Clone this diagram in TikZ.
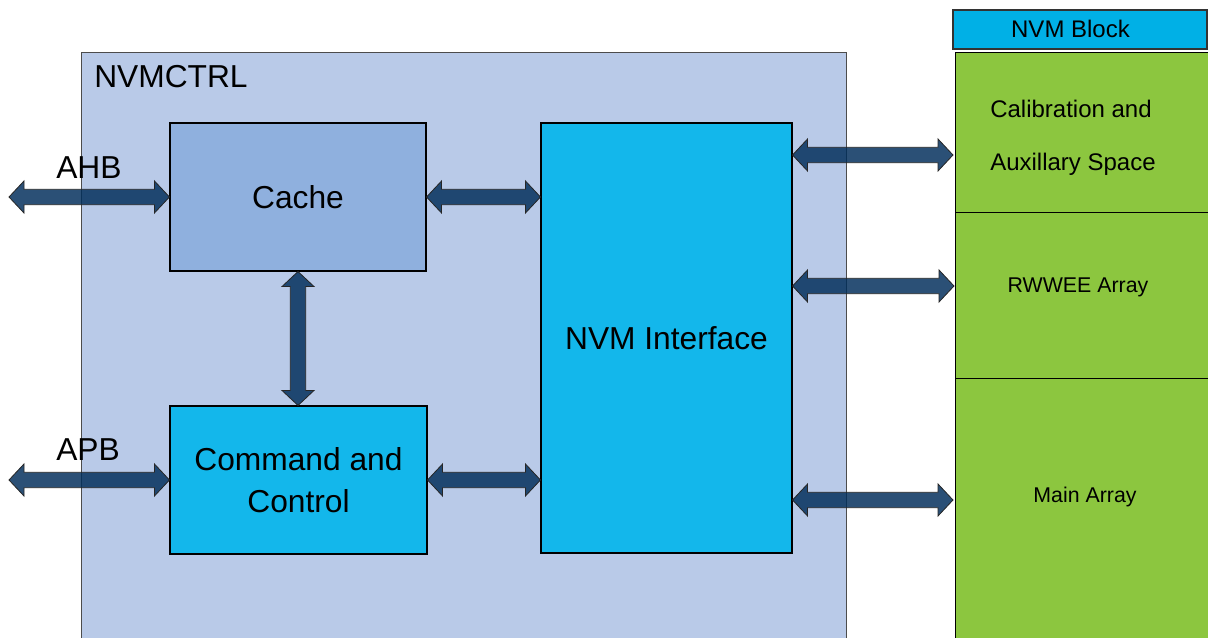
\documentclass[tikz,border=0pt]{standalone}
\usepackage{fontspec}
\setmainfont{Liberation Sans}
\usetikzlibrary{calc}
\definecolor{ctrlfill}{RGB}{185,202,232}
\definecolor{cachefill}{RGB}{143,176,222}
\definecolor{cyanfill}{RGB}{19,183,235}
\definecolor{headfill}{RGB}{0,176,230}
\definecolor{arrayfill}{RGB}{140,198,63}
\definecolor{arrowblue}{RGB}{0,45,90}
\def\px{0.75pt}
\newcommand\blocksize{\fontsize{23.8}{31.5}\selectfont}
\newcommand\calibsize{\fontsize{18}{24}\selectfont}
\newcommand\arraysize{\fontsize{16}{20}\selectfont}
% block arrow sizes
\def\ahl{11.25pt}
\def\ahw{12pt}
\def\asw{5.8pt}

\begin{document}
\begin{tikzpicture}[x=\px, y=-\px,
  every node/.style={inner sep=0pt, align=center},
  block/.style={draw=black, line width=0.8pt, font=\blocksize},
  region/.style={draw=black, line width=0.6pt, fill=arrayfill, anchor=north west, minimum width=260*\px},
  af/.style={shift={(\p1)}, rotate=\n2},
  blockarrow/.style={draw=black!85, line width=0.6pt, fill=arrowblue, fill opacity=0.83,
    to path={let \p1=(\tikztostart), \p2=(\tikztotarget),
      \n1={veclen(\x2-\x1,\y2-\y1)}, \n2={atan2(\y2-\y1,\x2-\x1)} in
      ([af]0pt,0pt) -- ([af]\ahl,\ahw) -- ([af]\ahl,\asw) -- ([af]{\n1-\ahl},\asw)
      -- ([af]{\n1-\ahl},\ahw) -- ([af]\n1,0pt) -- ([af]{\n1-\ahl},-\ahw)
      -- ([af]{\n1-\ahl},-\asw) -- ([af]\ahl,-\asw) -- ([af]\ahl,-\ahw) -- cycle}}]
  \useasboundingbox (0,0) rectangle (1208,638);

  % Controller frame
  \node[draw=black!70, line width=0.6pt, fill=ctrlfill, anchor=north west,
    minimum width=765*\px, minimum height=600*\px] (ctrl) at (81,52) {};
  \node[anchor=base west, font=\blocksize] (ctrllabel) at (94,88) {NVMCTRL};

  \node[block, fill=cachefill, minimum width=256*\px, minimum height=148*\px] (cache) at (298,197) {Cache};
  \node[block, fill=cyanfill, minimum width=257*\px, minimum height=148*\px] (cmd) at (298.5,480) {Command and\\Control};
  \node[block, fill=cyanfill, minimum width=251*\px, minimum height=430*\px] (nvmif) at (666.5,338) {NVM Interface};

  % NVM block column
  \node[draw=black!80, line width=0.8pt, fill=headfill, minimum width=254*\px, minimum height=39*\px] (nvmblock) at (1080,29.5) {};
  \node[font=\calibsize] (nvmblocklabel) at (1070.5,28.5) {NVM Block};
  \node[region, minimum height=160*\px] (calib) at (955,52) {};
  \node[region, minimum height=166*\px] (rwwee) at (955,212) {};
  \node[region, minimum height=270*\px] (mainarr) at (955,378) {};
  \node[anchor=base west, font=\calibsize] (calibtop) at (990,118) {Calibration and};
  \node[anchor=base west, font=\calibsize] (calibbot) at (990,171) {Auxillary Space};
  \node[anchor=base, font=\arraysize] (rwweelabel) at (1078,292) {RWWEE Array};
  \node[anchor=base, font=\arraysize] (mainlabel) at (1085,502) {Main Array};

  % Bus labels
  \node[anchor=base west, font=\blocksize] (ahblabel) at (56,179) {AHB};
  \node[anchor=base west, font=\blocksize] (apblabel) at (56,460) {APB};
  \coordinate (ahbend) at (9,197);
  \coordinate (apbend) at (9,480);

  % Block arrows
  \draw[blockarrow] (ahbend) to (cache.west);
  \draw[blockarrow] (apbend) to (cmd.west);
  \draw[blockarrow] (cache.east) to (cache.east -| nvmif.west);
  \draw[blockarrow] (cmd.east) to (cmd.east -| nvmif.west);
  \draw[blockarrow] (cache.south) to (cache.south |- cmd.north);
  \draw[blockarrow] (nvmif.east |- 0,155) to ([xshift=-2*\px]calib.west |- 0,155);
  \draw[blockarrow] (nvmif.east |- 0,286) to ([xshift=-1*\px]calib.west |- 0,286);
  \draw[blockarrow] (nvmif.east |- 0,500) to ([xshift=-2*\px]calib.west |- 0,500);
\end{tikzpicture}
\end{document}
